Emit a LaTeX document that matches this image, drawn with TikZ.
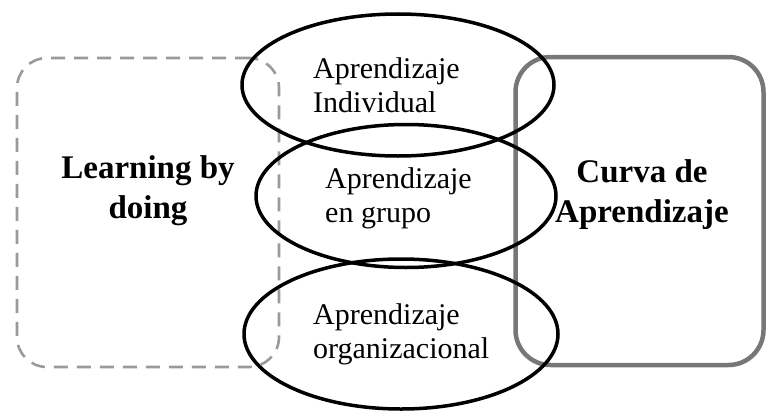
\documentclass[tikz,border=0pt]{standalone}
\usepackage{fontspec}
\setmainfont{Liberation Serif}
\usetikzlibrary{shapes.geometric}
\definecolor{dashgray}{HTML}{9A9A9A}
\definecolor{boxgray}{HTML}{777777}
\begin{document}
\begin{tikzpicture}[x=1pt,y=-1pt,
  oval/.style={ellipse, draw=black, line width=3.5pt, inner sep=0pt},
  dashbox/.style={draw=dashgray, line width=2.6pt, dash pattern=on 14pt off 9pt, rounded corners=30pt, inner sep=0pt},
  solidbox/.style={draw=boxgray, line width=4.5pt, rounded corners=35pt, inner sep=0pt},
  ovaltext/.style={font=\fontsize{30}{34}\selectfont, align=left, anchor=base west, inner sep=0pt},
  boldtext/.style={font=\fontsize{33}{40}\selectfont\bfseries, align=center, anchor=base, inner sep=0pt}]
\useasboundingbox (0,0) rectangle (767,412);
\node[dashbox, minimum width=262pt, minimum height=309pt] (lbd) at (148,212.5) {};
\node[solidbox, minimum width=248pt, minimum height=308pt] (cda) at (639.5,211) {};
\node[oval, minimum width=312pt, minimum height=142pt] (e1) at (398,85) {};
\node[oval, minimum width=300pt, minimum height=143pt] (e2) at (406,196) {};
\node[oval, minimum width=314pt, minimum height=150pt] (e3) at (401,334) {};
\node[ovaltext] (t1) at (313,112) {Aprendizaje\\Individual};
\node[ovaltext] (t2) at (325,222) {Aprendizaje\\en grupo};
\node[ovaltext] (t3) at (313,358) {Aprendizaje\\organizacional};
\node[boldtext] (tl) at (148,218) {Learning by\\doing};
\node[boldtext] (tc) at (642,222) {Curva de\\Aprendizaje};
\end{tikzpicture}
\end{document}
